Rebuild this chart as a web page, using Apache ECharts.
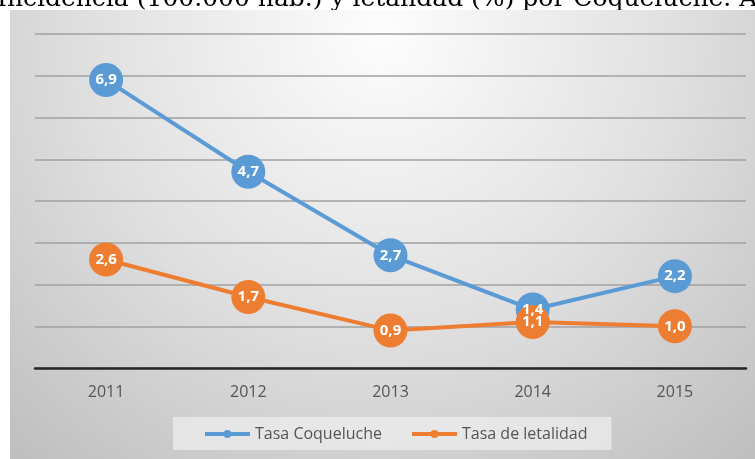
<!DOCTYPE html>
<html><head><meta charset="utf-8">
<script src="https://cdn.jsdelivr.net/npm/echarts@6/dist/echarts.min.js"></script>
<style>html,body{margin:0;padding:0;background:#fff}#c{width:755px;height:459px}</style>
</head><body><div id="c"></div>
<script>
const years = ['2011','2012','2013','2014','2015'];
const tasaCoqueluche = [6.9, 4.7, 2.7, 1.4, 2.2];
const tasaLetalidad = [2.6, 1.7, 0.9, 1.1, 1.0];
const seriesNames = ['Tasa Coqueluche', 'Tasa de letalidad'];
const titleText = 'Incidencia (100.000 hab.) y letalidad (%) por Coqueluche. Años 2011-2015';

const fmt = p => p.value.toFixed(1).replace('.', ',');
const chart = echarts.init(document.getElementById('c'), null, {renderer:'canvas'});
const mkSeries = (name, data, color) => ({
  name, type:'line', data, symbol:'circle', symbolSize:34,
  lineStyle:{color, width:4}, itemStyle:{color},
  label:{show:true, position:'inside', formatter:fmt, color:'#fff', fontWeight:'bold', fontSize:15, fontFamily:'Open Sans'},
  emphasis:{disabled:true}
});
chart.setOption({
  animation:false,
  graphic:[
    {type:'text', x:-3, y:-13, z:-10, style:{text:titleText, font:'25px "DejaVu Serif"', fill:'#000'}},
    {type:'rect', shape:{x:10,y:10,width:745,height:449}, z:-5,
     style:{fill:new echarts.graphic.RadialGradient(0.5,0.05,1.3,[
       {offset:0,color:'#fdfdfd'},{offset:0.5,color:'#e0e0e0'},{offset:1,color:'#bcbcbc'}])}}
  ],
  grid:{left:35,right:9,top:34,bottom:91},
  xAxis:{type:'category', data:years, boundaryGap:true,
    axisLine:{lineStyle:{color:'#262626', width:2.5}}, axisTick:{show:false},
    axisLabel:{color:'#555555', fontSize:16, fontFamily:'Open Sans', margin:16}},
  yAxis:{type:'value', min:0, max:8, interval:1,
    axisLabel:{show:false}, axisLine:{show:false}, axisTick:{show:false},
    splitLine:{lineStyle:{color:'#a0a0a0', width:1.5}}},
  legend:{data:seriesNames, left:173, top:417, itemWidth:45, itemHeight:10, itemGap:28,
    padding:[9,24,8,30], backgroundColor:'rgba(240,240,240,0.7)',
    lineStyle:{width:4},
    textStyle:{color:'#555555', fontSize:16, fontFamily:'Open Sans'}},
  series:[
    mkSeries(seriesNames[0], tasaCoqueluche, '#5B9BD5'),
    mkSeries(seriesNames[1], tasaLetalidad, '#ED7D31')
  ]
});
</script></body></html>
